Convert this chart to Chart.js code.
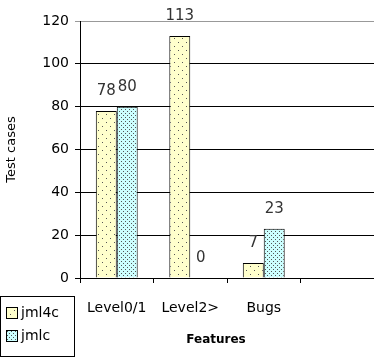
<!DOCTYPE html>
<html>
<head>
<meta charset="utf-8">
<script src="https://cdn.jsdelivr.net/npm/chart.js@4/dist/chart.umd.min.js"></script>
<style>
  body { margin: 0; background: #fff; }
  #wrap { width: 374px; height: 358px; }
</style>
</head>
<body>
<div id="wrap"><canvas id="myChart"></canvas></div>
<script>
  const categories = ['Level0/1', 'Level2>', 'Bugs', ''];
  const jml4cValues = [78, 113, 7, null];
  const jmlcValues = [80, 0, 23, null];
  const yTicks = [0, 20, 40, 60, 80, 100, 120];

  const FONT = 'DejaVu Sans';

  // dotted fill patterns like the old office chart
  function makePattern(bg, size, dots) {
    let c = document.createElement('canvas');
    c.width = size; c.height = size;
    let g = c.getContext('2d');
    g.fillStyle = bg;
    g.fillRect(0, 0, size, size);
    g.fillStyle = '#555';
    dots.forEach(function(d) { g.fillRect(d[0], d[1], 1, 1); });
    return g.createPattern(c, 'repeat');
  }
  const yellow = makePattern('#ffffcc', 8, [[2, 2], [6, 6]]);
  const cyan = makePattern('#ccffff', 4, [[1, 1], [3, 3]]);

  // value labels above bars, x title and the boxed legend bottom left
  const extras = {
    id: 'extras',
    afterDatasetsDraw(chart) {
      let ctx = chart.ctx;
      ctx.save();
      ctx.font = '15px ' + FONT;
      ctx.fillStyle = '#333';
      ctx.textAlign = 'center';
      ctx.textBaseline = 'middle';
      chart.data.datasets.forEach(function(ds, i) {
        chart.getDatasetMeta(i).data.forEach(function(bar, j) {
          if (ds.data[j] == null) return;
          ctx.fillText(String(ds.data[j]), bar.x, bar.y - 20);
        });
      });
      // axis title, sits a bit left of centre in the original
      ctx.fillStyle = '#000';
      ctx.font = 'bold 12px ' + FONT;
      ctx.fillText('Features', 216, 340);
      // legend
      ctx.strokeStyle = '#000';
      ctx.lineWidth = 1;
      ctx.strokeRect(0.5, 296.5, 74, 60);
      ctx.font = '14px ' + FONT;
      ctx.textAlign = 'left';
      chart.data.datasets.forEach(function(ds, i) {
        let y = 307 + i * 23;
        ctx.fillStyle = ds.backgroundColor;
        ctx.fillRect(6, y, 11, 11);
        ctx.strokeRect(6.5, y + 0.5, 11, 11);
        ctx.fillStyle = '#000';
        ctx.fillText(ds.label, 21, y + 6);
      });
      ctx.restore();
    }
  };

  let ctx = document.getElementById('myChart').getContext('2d');

  let chart = new Chart(ctx, {
    type: 'bar',
    data: {
      labels: categories,
      datasets: [{
        label: 'jml4c',
        backgroundColor: yellow,
        borderColor: '#000',
        borderWidth: 1,
        data: jml4cValues,
      },
      {
        label: 'jmlc',
        backgroundColor: cyan,
        borderColor: '#000',
        borderWidth: 1,
        data: jmlcValues,
      }]
    },
    plugins: [extras],
    options: {
      responsive: true,
      maintainAspectRatio: false,
      animation: false,
      layout: { padding: { top: 21, right: 0, left: 0, bottom: 0 } },
      categoryPercentage: 0.57,
      barPercentage: 1,
      plugins: {
        legend: { display: false },
        tooltip: { enabled: false }
      },
      scales: {
        x: {
          grid: { offset: true, drawOnChartArea: false, color: '#000', tickLength: 5 },
          border: { color: '#000' },
          ticks: { color: '#000', font: { family: FONT, size: 14 }, padding: 17, maxRotation: 0 },
          afterFit: function(s) { s.height = 80; }
        },
        y: {
          min: 0,
          max: 120,
          afterBuildTicks: function(s) { s.ticks = yTicks.map(function(v) { return { value: v }; }); },
          grid: {
            color: function(c) { return c.tick && c.tick.value === 120 ? '#999' : '#000'; },
            tickLength: 5
          },
          border: { color: '#000' },
          ticks: { color: '#000', font: { family: FONT, size: 14 }, padding: 6 },
          title: { display: true, text: 'Test cases', color: '#000', font: { family: FONT, size: 13 } },
          afterFit: function(s) { s.width = 80; }
        }
      }
    },
  });
</script>
</body>
</html>
